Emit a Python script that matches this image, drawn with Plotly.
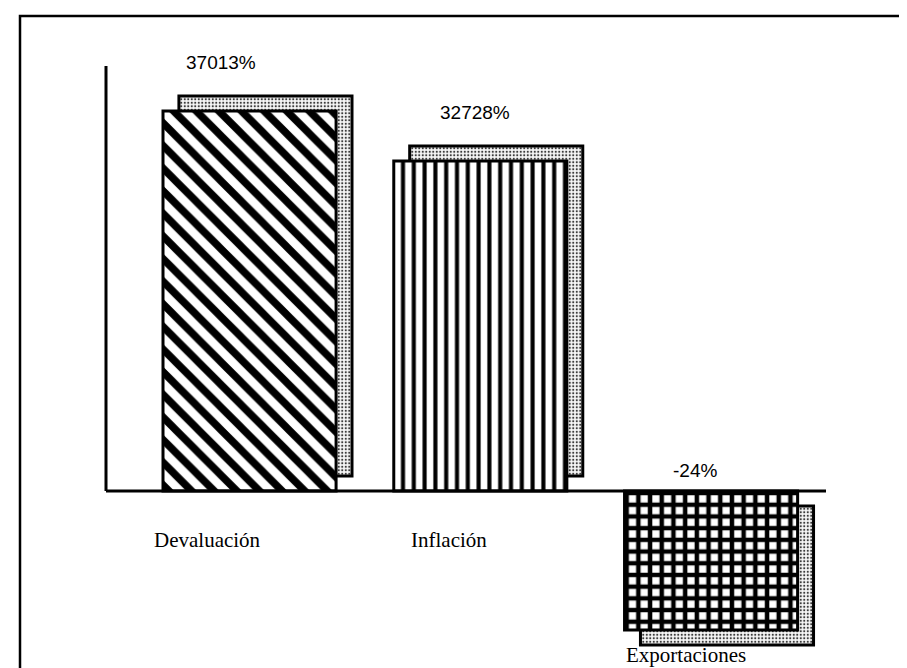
import plotly.graph_objects as go

# ---- data ----
categories = ["Devaluación", "Inflación", "Exportaciones"]
pct_values = [37013, 32728, -24]          # printed value labels (%)
# bar lengths as drawn in the source (the negative bar is drawn far larger than to scale)
bar_length = [37013, 32150, -13540]
positions = [0, 1, 2]

# ---- styles ----
patterns = [
    dict(shape="\\", size=16, solidity=0.47),
    dict(shape="|", size=10.8, solidity=0.38),
    dict(shape="+", size=11.7, solidity=0.62),
]
bar_w = 0.75
dx = 0.069          # shadow shift (x units)
dy = 1460           # shadow shift (y units)
val_xshift = [-29, -5, -16]
cat_xshift = [-42, -31, -25]

fig = go.Figure()

# shadows (behind)
fig.add_trace(go.Bar(
    x=positions, y=bar_length,
    base=[dy if v > 0 else -dy for v in bar_length],
    width=bar_w, offset=-bar_w / 2 + dx,
    marker=dict(
        color="#f4f4f4",
        line=dict(color="black", width=3),
        pattern=dict(shape=".", size=3.5, solidity=0.3, fgcolor="#3a3a3a",
                     bgcolor="#f8f8f8", fillmode="replace"),
    ),
    hoverinfo="skip", showlegend=False,
))

# front bars, one trace each for its own hatching
for i in range(3):
    p = patterns[i]
    fig.add_trace(go.Bar(
        x=[positions[i]], y=[bar_length[i]], base=[0],
        width=bar_w, offset=-bar_w / 2,
        marker=dict(
            color="white",
            line=dict(color="black", width=3),
            pattern=dict(shape=p["shape"], size=p["size"], solidity=p["solidity"],
                         fgcolor="black", bgcolor="white", fillmode="replace"),
        ),
        name=categories[i], showlegend=False,
    ))

annotations = []
for i in range(3):
    v = bar_length[i]
    annotations.append(dict(
        x=positions[i], y=v if v > 0 else 0, xref="x", yref="y",
        text=f"{pct_values[i]}%", showarrow=False,
        xshift=val_xshift[i], yshift=48 if v > 0 else 21,
        font=dict(family="Liberation Sans", size=19, color="black"),
    ))
    annotations.append(dict(
        x=positions[i], y=0 if v > 0 else v, xref="x", yref="y",
        text=categories[i], showarrow=False,
        xshift=cat_xshift[i], yshift=-49 if v > 0 else -25,
        font=dict(family="Liberation Serif", size=21, color="black"),
    ))

y_top = 41395
y_bot = -17240

shapes = [
    # y axis line (from zero up)
    dict(type="line", xref="paper", yref="y", x0=0, x1=0, y0=0, y1=y_top,
         line=dict(color="black", width=3), layer="above"),
    # x axis line
    dict(type="line", xref="paper", yref="y", x0=0, x1=1, y0=0, y1=0,
         line=dict(color="black", width=3), layer="above"),
    # outer frame (bottom edge off-page)
    dict(type="rect", xref="paper", yref="paper",
         x0=(12 - 98) / 720, x1=(905 - 98) / 720,
         y0=-0.05, y1=(660 - 8) / 602,
         line=dict(color="black", width=2.5), layer="below"),
]

fig.update_layout(
    width=907, height=668,
    margin=dict(l=98, r=89, t=58, b=8, pad=0),
    paper_bgcolor="white", plot_bgcolor="white",
    barmode="overlay",
    xaxis=dict(range=[-0.622, 2.498], visible=False, fixedrange=True),
    yaxis=dict(range=[y_bot, y_top], visible=False, fixedrange=True),
    annotations=annotations,
    shapes=shapes,
)

fig.write_html("out.html")
